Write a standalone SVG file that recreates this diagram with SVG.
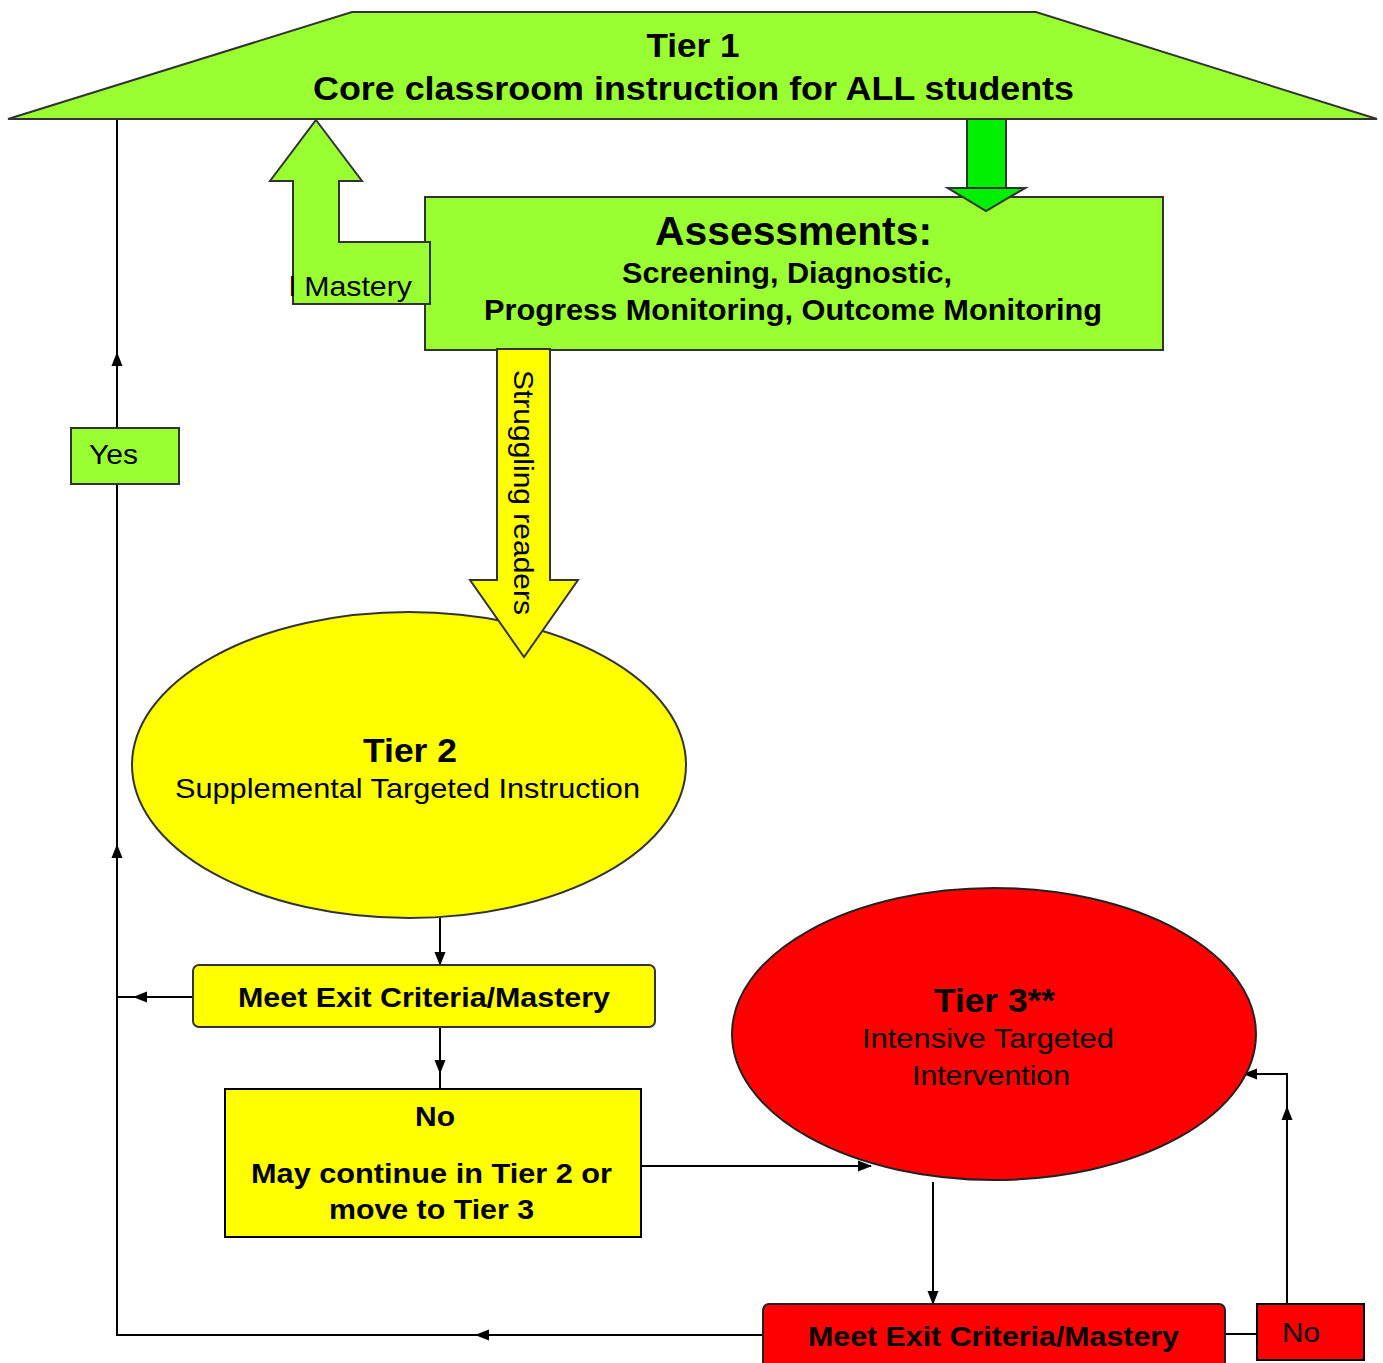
<svg xmlns="http://www.w3.org/2000/svg" width="1383" height="1363" viewBox="0 0 1383 1363">
<style>
text{font-family:"Liberation Sans",Arial,sans-serif;fill:#000}
.b{font-weight:bold}
.lg{fill:#99FF33;stroke:#333;stroke-width:2}
.yl{fill:#FFFF00;stroke:#333;stroke-width:2}
.rd{fill:#FF0000;stroke:#222;stroke-width:2}
.c{fill:none;stroke:#000;stroke-width:2}
</style>
<defs>
<marker id="ah" markerWidth="14" markerHeight="12" refX="13" refY="6" orient="auto" markerUnits="userSpaceOnUse">
<path d="M0,0.5 L14,6 L0,11.5 z" fill="#000"/>
</marker>
</defs>
<rect width="1383" height="1363" fill="#fff"/>

<g id="connectors">
<line class="c" x1="117" y1="1335" x2="117" y2="845" marker-end="url(#ah)"/>
<line class="c" x1="117" y1="845" x2="117" y2="353" marker-end="url(#ah)"/>
<line class="c" x1="117" y1="353" x2="117" y2="119"/>
<line class="c" x1="763" y1="1335" x2="476" y2="1335" marker-end="url(#ah)"/>
<line class="c" x1="476" y1="1335" x2="116" y2="1335"/>
<line class="c" x1="193" y1="997" x2="134" y2="997" marker-end="url(#ah)"/>
<line class="c" x1="134" y1="997" x2="117" y2="997"/>
<line class="c" x1="440" y1="918" x2="440" y2="965" marker-end="url(#ah)"/>
<line class="c" x1="440" y1="1027" x2="440" y2="1073" marker-end="url(#ah)"/>
<line class="c" x1="440" y1="1073" x2="440" y2="1089"/>
<line class="c" x1="641" y1="1166" x2="871" y2="1166" marker-end="url(#ah)"/>
<line class="c" x1="933" y1="1182" x2="933" y2="1304" marker-end="url(#ah)"/>
<line class="c" x1="1225" y1="1334" x2="1259" y2="1334"/>
<line class="c" x1="1287" y1="1304" x2="1287" y2="1107" marker-end="url(#ah)"/>
<polyline class="c" points="1287,1107 1287,1074 1244,1074" marker-end="url(#ah)"/>
</g>

<g id="tier1">
<polygon class="lg" points="352,12 1036,12 1377,119 8,119"/>
<text class="b" x="693" y="57" font-size="34" text-anchor="middle" textLength="93" lengthAdjust="spacingAndGlyphs">Tier 1</text>
<text class="b" x="313" y="100" font-size="34" textLength="761" lengthAdjust="spacingAndGlyphs">Core classroom instruction for ALL students</text>
</g>

<g id="tier1-down-arrow">
<polygon fill="#00EE00" stroke="#333" stroke-width="2" points="967,119 1006,119 1006,188 1025,188 986,211 948,188 967,188"/>
</g>

<g id="assessments">
<rect class="lg" x="425" y="197" width="738" height="153"/>
<polygon fill="#00EE00" stroke="#333" stroke-width="2" points="948,188 1025,188 986,211"/>
<text class="b" x="655" y="245" font-size="40" textLength="277" lengthAdjust="spacingAndGlyphs">Assessments:</text>
<text class="b" x="622" y="283" font-size="30" textLength="330" lengthAdjust="spacingAndGlyphs">Screening, Diagnostic,</text>
<text class="b" x="484" y="320" font-size="30" textLength="618" lengthAdjust="spacingAndGlyphs">Progress Monitoring, Outcome Monitoring</text>
</g>

<g id="mastery-arrow">
<polygon class="lg" points="316,120 362,181 339,181 339,242 430,242 430,304 293,304 293,181 270,181"/>
<text x="289" y="296" font-size="28" textLength="123" lengthAdjust="spacingAndGlyphs">l Mastery</text>
</g>

<g id="yes">
<rect class="lg" x="71" y="428" width="108" height="56"/>
<text x="89" y="464" font-size="28" textLength="49" lengthAdjust="spacingAndGlyphs">Yes</text>
</g>

<g id="tier2">
<ellipse class="yl" cx="409" cy="765" rx="277" ry="153"/>
<text class="b" x="410" y="762" font-size="34" text-anchor="middle" textLength="94" lengthAdjust="spacingAndGlyphs">Tier 2</text>
<text x="175" y="798" font-size="28" textLength="465" lengthAdjust="spacingAndGlyphs">Supplemental Targeted Instruction</text>
</g>

<g id="struggling-arrow">
<polygon class="yl" points="497,349 550,349 550,580 578,580 524,657 470,580 497,580"/>
<text transform="translate(514,370) rotate(90)" font-size="28" textLength="245" lengthAdjust="spacingAndGlyphs">Struggling readers</text>
</g>

<g id="meet2">
<rect class="yl" x="193" y="965" width="462" height="62" rx="6"/>
<text class="b" x="238" y="1007" font-size="28" textLength="372" lengthAdjust="spacingAndGlyphs">Meet Exit Criteria/Mastery</text>
</g>

<g id="no2">
<rect fill="#FFFF00" stroke="#000" stroke-width="2" x="225" y="1089" width="416" height="148"/>
<text class="b" x="435" y="1126" font-size="28" text-anchor="middle" textLength="40" lengthAdjust="spacingAndGlyphs">No</text>
<text class="b" x="251" y="1183" font-size="28" textLength="361" lengthAdjust="spacingAndGlyphs">May continue in Tier 2 or</text>
<text class="b" x="329" y="1219" font-size="28" textLength="205" lengthAdjust="spacingAndGlyphs">move to Tier 3</text>
</g>

<g id="tier3">
<ellipse class="rd" cx="994" cy="1034" rx="262" ry="146"/>
<text class="b" x="934" y="1012" font-size="34" textLength="121" lengthAdjust="spacingAndGlyphs">Tier 3**</text>
<text x="862" y="1048" font-size="28" fill="#1a0000" textLength="252" lengthAdjust="spacingAndGlyphs">Intensive Targeted</text>
<text x="912" y="1085" font-size="28" fill="#1a0000" textLength="158" lengthAdjust="spacingAndGlyphs">Intervention</text>
</g>

<g id="meet3">
<rect class="rd" x="763" y="1304" width="462" height="66" rx="6"/>
<text class="b" x="808" y="1346" font-size="28" textLength="371" lengthAdjust="spacingAndGlyphs">Meet Exit Criteria/Mastery</text>
</g>

<g id="no3">
<rect fill="#FF0000" stroke="#000" stroke-width="2" x="1257" y="1304" width="107" height="56"/>
<text x="1282" y="1342" font-size="28" fill="#330000" textLength="38" lengthAdjust="spacingAndGlyphs">No</text>
</g>
</svg>
